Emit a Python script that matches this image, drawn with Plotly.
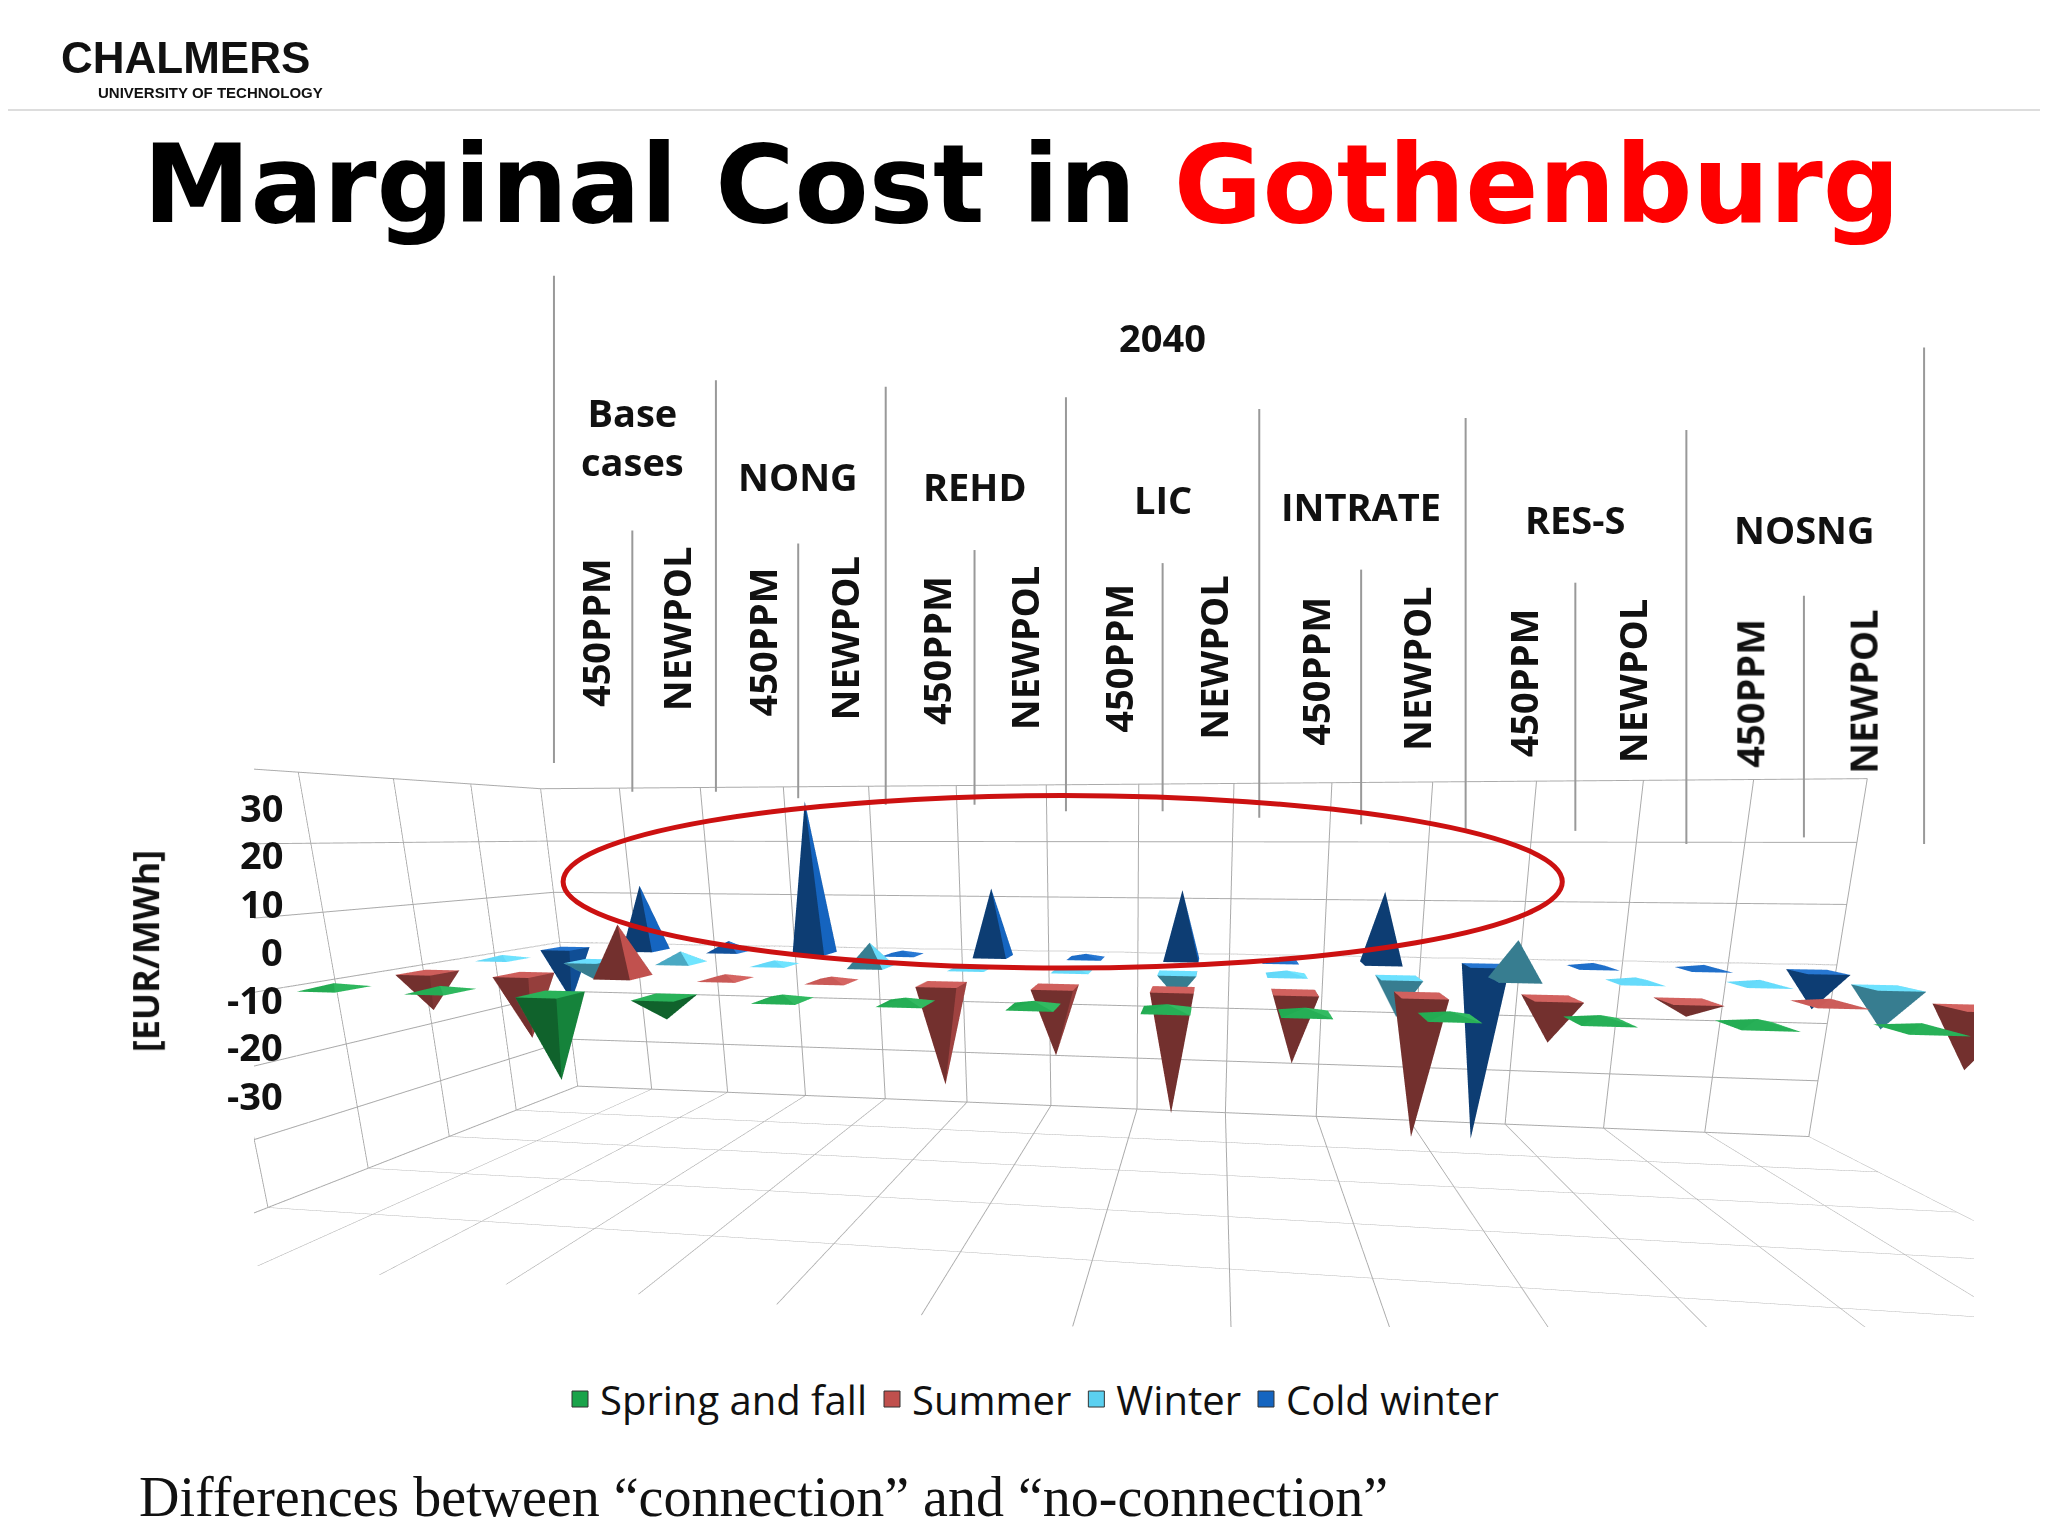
import plotly.graph_objects as go

groups = ["Base<br>cases", "NONG", "REHD", "LIC", "INTRATE", "RES-S", "NOSNG"]
scen = ["450PPM", "NEWPOL"]
seasons = ["Spring and fall", "Summer", "Winter", "Cold winter"]
colors = ["#1aa34a", "#c0504d", "#5bd0f0", "#1565c0"]
zticks = [30, 20, 10, 0, -10, -20, -30]
spring = [0, 0, -12, -3, 0, 0, 0, 0, 0, 0, 0, 0, 0, -3]
summer = [-6, -10, 8, 0, 0, -15, -10, -18, -10, -20, -6, -2, 0, -8]
winter = [0, -3, 2, 0, 4, 0, 0, -4, 0, -6, 6, 0, 0, -6]
cold = [-10, 12, 2, 27, 0, 12, 0, 12, 0, 12, -30, 0, 0, -6]
series = [spring, summer, winter, cold]

W, H = 2048, 1536


def px(x):
    return x / 1568


def py(y):
    return 1 - y / 1176


fig = go.Figure()
w = 0.18
for si, (vals, col) in enumerate(zip(series, colors)):
    X, Y, Z, I, J, K = [], [], [], [], [], []
    for xi, v in enumerate(vals):
        b = len(X)
        cx, cy = xi, si
        for dx, dy in [(-w, -w), (w, -w), (w, w), (-w, w)]:
            X.append(cx + dx); Y.append(cy + dy); Z.append(0)
        X.append(cx); Y.append(cy); Z.append(v if v != 0 else 0.8)
        for f in [(0, 1, 2), (0, 2, 3), (0, 1, 4), (1, 2, 4), (2, 3, 4), (3, 0, 4)]:
            I.append(b + f[0]); J.append(b + f[1]); K.append(b + f[2])
    fig.add_trace(go.Mesh3d(x=X, y=Y, z=Z, i=I, j=J, k=K, color=col, flatshading=True,
                            lighting=dict(ambient=0.6, diffuse=0.7, specular=0.2),
                            showlegend=False, hoverinfo="skip"))
    fig.add_trace(go.Scatter(x=[None], y=[None], mode="markers", name=seasons[si],
                             marker=dict(symbol="square", size=26, color=col,
                                         line=dict(color="#333", width=1))))

F = "Open Sans"
ann = []
shapes = []
scen_x = [450, 512, 578, 640, 710, 778, 850, 923, 1000, 1078, 1160, 1243, 1333, 1420]
scen_y = [478, 475, 485, 482, 492, 490, 498, 497, 508, 506, 517, 515, 525, 523]
for i, (x, y) in enumerate(zip(scen_x, scen_y)):
    ann.append(dict(x=px(x), y=py(y), text="<b>" + scen[i % 2] + "</b>", textangle=-90,
                    font=dict(size=38, family=F, color="#111")))
grp_x = [478, 605, 740, 884, 1036, 1200, 1375]
grp_y = [328, 358, 366, 376, 381, 391, 399]
for g, x, y in zip(groups, grp_x, grp_y):
    ann.append(dict(x=px(x), y=py(y), text="<b>" + g + "</b>", font=dict(size=38, family=F, color="#111")))
ann.append(dict(x=px(884), y=py(252), text="<b>2040</b>", font=dict(size=38, family=F, color="#111")))
for t, y in zip(zticks, [612, 648, 685, 722, 759, 795, 832]):
    ann.append(dict(x=px(212), y=py(y), xanchor="right", text="<b>%d</b>" % t,
                    font=dict(size=38, family=F, color="#111")))
ann.append(dict(x=px(105), y=py(722), text="<b>[EUR/MWh]</b>", textangle=-90,
                font=dict(size=36, family=F, color="#111")))
for a in ann:
    a.update(xref="paper", yref="paper", showarrow=False, yanchor="middle")
    a.setdefault("xanchor", "center")

majors = [(418, 205, 578), (542, 285, 600), (672, 290, 610), (810, 298, 615), (958, 307, 620),
          (1116, 314, 630), (1285, 323, 640), (1467, 260, 640)]
minors = [(478, 400, 600), (605, 410, 605), (740, 415, 610), (884, 425, 615), (1036, 430, 625),
          (1200, 440, 630), (1375, 450, 635)]
for x, y0, y1 in majors + minors:
    shapes.append(dict(type="line", xref="paper", yref="paper", x0=px(x), x1=px(x), y0=py(y0), y1=py(y1),
                       line=dict(color="#999", width=2)))
shapes.append(dict(type="line", xref="paper", yref="paper", x0=0, x1=1, y0=py(78), y1=py(78),
                   line=dict(color="#ddd", width=2)))
shapes.append(dict(type="circle", xref="paper", yref="paper", x0=px(425), x1=px(1190), y0=py(735),
                   y1=py(603), line=dict(color="#cc1111", width=5)))

fig.update_layout(
    width=W, height=H, paper_bgcolor="white", plot_bgcolor="white",
    margin=dict(l=0, r=0, t=0, b=0),
    xaxis=dict(visible=False), yaxis=dict(visible=False),
    scene=dict(
        domain=dict(x=[0.12, 0.96], y=[py(1010), py(490)]),
        xaxis=dict(range=[-0.5, 13.5], showticklabels=False, title="", showgrid=True,
                   gridcolor="#aaa", tickvals=[i - 0.5 for i in range(15)], backgroundcolor="white",
                   showbackground=True, zeroline=False),
        yaxis=dict(range=[-1.5, 3.6], showticklabels=False, title="", gridcolor="#aaa",
                   tickvals=[-0.5, 0.5, 1.5, 2.5], backgroundcolor="white", showbackground=True),
        zaxis=dict(range=[-30, 30], tickvals=zticks, showticklabels=False, title="",
                   gridcolor="#aaa", backgroundcolor="white", showbackground=True),
        aspectmode="manual", aspectratio=dict(x=3.3, y=1.0, z=0.85),
        camera=dict(eye=dict(x=0.2, y=-1.6, z=0.3), center=dict(x=0, y=0, z=0))),
    legend=dict(orientation="h", x=0.5, xanchor="center", y=py(1065), yanchor="middle",
                itemsizing="trace", font=dict(size=40, family=F, color="#111")),
    annotations=ann + [
        dict(x=0.025, y=0.985, xref="paper", yref="paper", xanchor="left", yanchor="top", showarrow=False,
             text="<b>CHALMERS</b>", font=dict(size=44, family="Liberation Sans", color="#111")),
        dict(x=0.043, y=0.952, xref="paper", yref="paper", xanchor="left", yanchor="top", showarrow=False,
             text="<b>UNIVERSITY OF TECHNOLOGY</b>", font=dict(size=15, family="Liberation Sans", color="#111")),
        dict(x=0.065, y=py(135), xref="paper", yref="paper", xanchor="left", yanchor="middle", showarrow=False,
             text="<b>Marginal Cost in <span style='color:#ff0000'>Gothenburg</span></b>",
             font=dict(size=108, family="DejaVu Sans", color="#000")),
        dict(x=0.063, y=py(1140), xref="paper", yref="paper", xanchor="left", yanchor="middle", showarrow=False,
             text="Differences between “connection” and “no-connection”",
             font=dict(size=56, family="Liberation Serif", color="#111")),
    ],
    shapes=shapes,
)
fig.write_html("out.html")
